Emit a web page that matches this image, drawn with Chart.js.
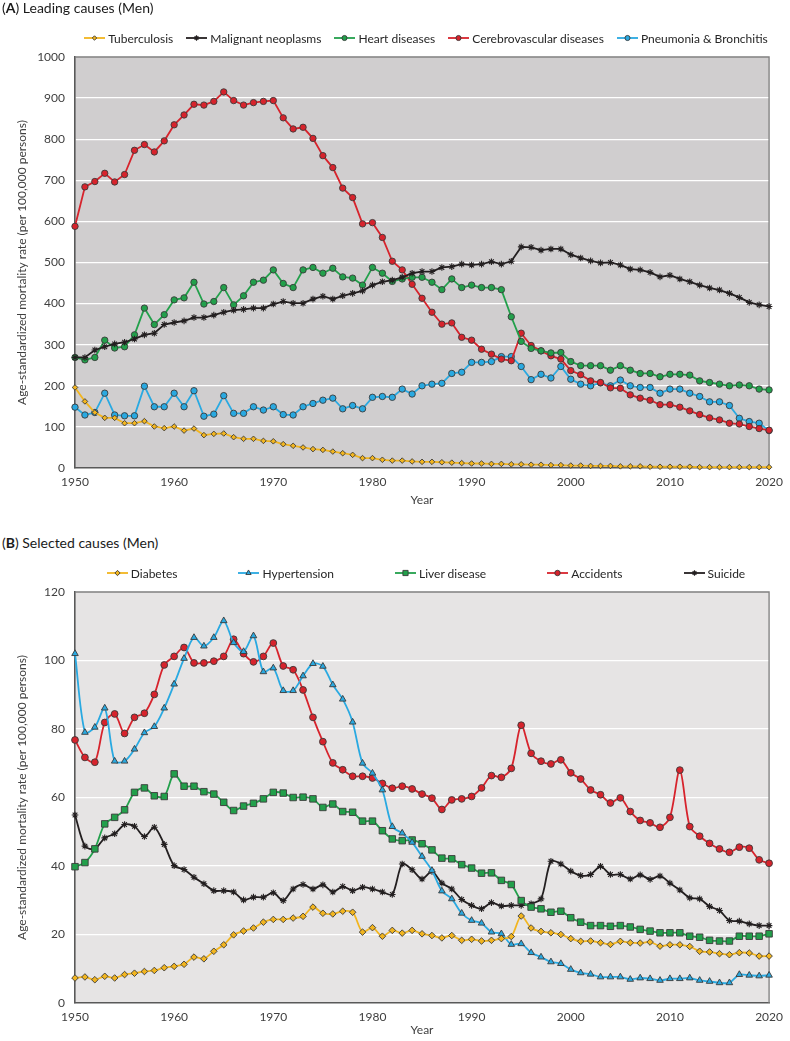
<!DOCTYPE html>
<html>
<head>
<meta charset="utf-8">
<title>Age-standardized mortality (Men)</title>
<script src="https://cdn.jsdelivr.net/npm/chart.js"></script>
<style>
  body { margin: 0; background: #fff; font-family: Lato, 'Open Sans', sans-serif; width: 790px; height: 1041px; position: relative; overflow: hidden; }
  .ttl { position: absolute; left: 2px; font-size: 14px; line-height: 16px; color: #1a1a1a; z-index: 2; }
  .box { position: absolute; left: 0; width: 790px; }
  .legend { position: absolute; left: 75px; width: 702px; height: 16px; display: flex; justify-content: center; align-items: center; font-size: 12px; color: #262626; z-index: 2; white-space: nowrap; }
  .legend span { display: inline-flex; align-items: center; }
  .legend canvas { margin-right: 3px; }
</style>
</head>
<body>
<div class="ttl" style="top:0px">(<b>A</b>) Leading causes (Men)</div>
<div class="legend" id="legendA" style="top:30px; gap:13px"></div>
<div class="box" style="top:0; height:520px"><canvas id="chartA"></canvas></div>

<div class="ttl" style="top:535px">(<b>B</b>) Selected causes (Men)</div>
<div class="legend" id="legendB" style="top:565px; gap:61px"></div>
<div class="box" style="top:560px; height:481px"><canvas id="chartB"></canvas></div>

<script>
const years = [1950,1951,1952,1953,1954,1955,1956,1957,1958,1959,1960,1961,1962,1963,1964,1965,1966,1967,1968,1969,
  1970,1971,1972,1973,1974,1975,1976,1977,1978,1979,1980,1981,1982,1983,1984,1985,1986,1987,1988,1989,
  1990,1991,1992,1993,1994,1995,1996,1997,1998,1999,2000,2001,2002,2003,2004,2005,2006,2007,2008,2009,
  2010,2011,2012,2013,2014,2015,2016,2017,2018,2019,2020];
const yearTicks = [1950,1960,1970,1980,1990,2000,2010,2020];
const leadingTicks = [0,100,200,300,400,500,600,700,800,900,1000];
const selectedTicks = [0,20,40,60,80,100,120];

// (A) leading causes
const tuberculosis = [196,162,135,122,122,109,109,114,101,97,101,91,96,80,83,84,75,71,71,66,
  65,58,54,50,46,44,40,36,32,24,24,20,18,18,16,15,15,14,13,12,
  11,11,10,10,9,9,8,8,7,7,6,6,5,5,5,4,4,4,3,3,
  3,3,3,2,2,2,2,2,2,2,2];
const malignant = [269,269,287,295,302,306,314,324,328,349,354,358,366,366,372,379,384,386,389,389,
  399,405,401,401,411,418,411,419,425,431,445,453,457,464,474,478,478,488,490,496,
  494,496,502,496,503,538,537,530,533,533,519,511,504,499,500,494,484,482,476,465,
  469,460,453,445,438,433,425,415,403,397,393];
const heart = [269,263,269,311,292,295,324,389,349,373,409,414,452,399,405,439,397,419,452,457,
  482,449,439,482,488,474,486,465,462,445,488,474,454,460,464,464,452,434,460,439,
  445,439,439,434,368,308,291,285,280,281,259,249,249,249,238,249,238,230,230,222,
  228,228,226,212,208,204,200,202,200,192,190];
const cerebro = [588,684,697,717,696,714,773,787,769,796,835,859,885,883,892,915,894,883,889,892,
  894,852,825,829,802,760,731,681,658,594,597,561,503,482,447,413,379,350,353,318,
  311,289,277,265,261,328,298,285,273,265,237,227,212,208,195,194,178,170,165,154,
  154,148,139,130,122,117,109,107,101,96,92];
const pneumonia = [148,129,135,182,129,127,127,199,149,149,182,149,188,126,131,176,133,133,149,141,
  149,130,129,149,157,165,170,144,152,144,172,174,172,192,180,200,204,206,230,233,
  257,257,259,271,271,247,215,228,219,247,216,204,200,207,200,214,200,196,196,182,
  192,192,182,174,161,161,152,121,113,109,91];

// (B) selected causes
const diabetes = [7.3,7.6,6.8,7.8,7.3,8.3,8.7,9.2,9.5,10.3,10.7,11.3,13.4,12.9,15.1,17.0,19.9,21.0,21.9,23.6,
  24.4,24.4,24.8,25.3,28.0,26.2,26.0,26.8,26.5,20.7,22.0,19.5,21.2,20.4,21.2,20.2,19.7,19.0,19.7,18.3,
  18.6,18.1,18.3,18.8,19.4,25.4,21.9,20.9,20.5,20.0,18.8,18.0,18.1,17.6,17.1,18.0,17.6,17.5,17.8,16.6,
  17.0,17.0,16.5,15.1,14.9,14.4,14.1,14.7,14.6,13.7,13.7];
const hypertension = [102.0,79.0,80.5,86.1,70.6,70.6,74.1,78.9,80.7,86.1,93.1,100.6,106.7,104.2,106.7,111.6,105.2,102.6,107.2,96.7,
  97.8,91.2,91.2,95.5,99.1,98.3,92.9,88.7,82.0,70.0,67.1,62.2,51.5,49.6,46.9,42.8,38.7,32.7,30.4,26.2,
  24.1,23.3,20.7,20.2,17.1,17.3,14.7,13.4,12.0,11.5,9.8,8.8,8.4,7.6,7.6,7.6,6.9,7.3,7.1,6.6,
  7.1,7.1,7.3,6.6,6.3,5.9,5.9,8.3,8.1,7.9,8.1];
const liver = [39.8,41.0,45.0,52.3,54.2,56.4,61.5,62.8,60.5,60.3,66.9,63.3,63.3,61.7,61.0,58.6,56.2,57.5,58.3,59.6,
  61.5,61.3,60.0,60.1,59.6,57.1,58.1,55.9,55.7,53.1,53.1,50.3,47.9,47.4,47.6,46.5,44.7,42.3,42.1,40.4,
  39.4,37.9,38.0,35.8,34.6,29.9,28.0,27.5,26.5,26.8,24.9,23.6,22.6,22.6,22.4,22.6,22.2,21.5,21.0,20.5,
  20.5,20.5,19.5,19.2,18.3,18.1,18.1,19.5,19.5,19.5,20.2];
const accidents = [76.8,71.7,70.3,81.9,84.4,78.7,83.4,84.6,90.1,98.7,101.2,103.8,99.3,99.3,99.8,101.2,106.2,102.0,99.6,101.2,
  105.1,98.4,97.3,91.4,83.4,76.3,70.1,68.1,66.2,66.2,65.7,64.1,62.7,63.3,62.5,61.0,59.8,56.5,59.3,59.6,
  60.3,62.8,66.4,65.9,68.5,81.1,72.9,70.6,69.8,71.0,67.2,65.4,62.2,60.8,58.4,59.9,55.9,53.3,52.6,51.3,
  54.2,68.0,51.5,48.7,46.6,45.0,44.0,45.5,45.2,41.8,40.8];
const suicide = [54.9,45.8,45.0,48.2,49.4,52.1,51.6,48.6,51.3,46.3,40.1,39.0,36.7,34.8,32.8,32.8,32.4,30.1,30.9,30.9,
  32.2,29.9,33.3,34.6,33.3,34.5,32.4,34.0,32.8,33.8,33.3,32.4,31.7,40.6,38.9,36.2,38.4,35.0,33.3,30.2,
  28.5,27.5,29.3,28.3,28.5,28.5,29.0,30.4,41.4,40.6,38.5,37.2,37.5,39.9,37.5,37.5,36.2,37.4,36.1,37.1,
  35.0,33.0,30.7,30.4,28.2,27.0,24.1,23.9,23.1,22.6,22.6];

const YELLOW = '#f2b51f', BLACK = '#231f20', GREEN = '#22a04b', RED = '#d7232c', BLUE = '#29a9e1';
const EDGE = '#3a3a3a';

Chart.defaults.font.family = "Lato, 'Open Sans', sans-serif";
Chart.defaults.font.size = 12;
Chart.defaults.color = '#404040';

function series(label, values, color, style, radius) {
  return {
    label: label,
    data: values.map((v, i) => ({ x: years[i], y: v })),
    borderColor: color,
    backgroundColor: color,
    borderWidth: 1.8,
    pointStyle: style,
    pointRadius: radius,
    pointHoverRadius: radius,
    pointBackgroundColor: color,
    pointBorderColor: style === 'star' ? color : EDGE,
    pointBorderWidth: style === 'star' ? 1.1 : 0.9,
    clip: false
  };
}

// grey plot area plus thin frame on top/right
const plotFrame = {
  id: 'plotFrame',
  beforeDraw(chart, args, opts) {
    const a = chart.chartArea, ctx = chart.ctx;
    ctx.save();
    ctx.fillStyle = opts.fill;
    ctx.fillRect(a.left, a.top, a.right - a.left, a.bottom - a.top);
    ctx.restore();
  },
  beforeDatasetsDraw(chart) {
    const a = chart.chartArea, ctx = chart.ctx;
    ctx.save();
    ctx.strokeStyle = '#7f7f7f';
    ctx.lineWidth = 1.3;
    ctx.beginPath();
    ctx.moveTo(a.left, a.top);
    ctx.lineTo(a.right, a.top);
    ctx.lineTo(a.right, a.bottom);
    ctx.stroke();
    ctx.restore();
  }
};

function panel(id, datasets, yTicks, o) {
  return new Chart(document.getElementById(id), {
    type: 'line',
    data: { datasets: datasets },
    plugins: [plotFrame],
    options: {
      responsive: true,
      maintainAspectRatio: false,
      animation: false,
      layout: { padding: { top: o.top, right: 13, bottom: 0, left: 0 } },
      elements: { line: { tension: o.tension } },
      plugins: {
        legend: { display: false },
        tooltip: { enabled: false },
        plotFrame: { fill: o.fill }
      },
      scales: {
        x: {
          type: 'linear',
          min: yearTicks[0],
          max: yearTicks[yearTicks.length - 1],
          afterBuildTicks: s => { s.ticks = yearTicks.map(v => ({ value: v })); },
          ticks: { padding: 7, callback: v => String(v) },
          grid: { display: false, drawTicks: false },
          border: { color: '#595959', width: 1.6 },
          title: { display: true, text: 'Year', color: '#404040', padding: { top: 0, bottom: o.titlePad } },
          afterFit: s => { s.height = o.xHeight; }
        },
        y: {
          min: yTicks[0],
          max: yTicks[yTicks.length - 1],
          afterBuildTicks: s => { s.ticks = yTicks.map(v => ({ value: v })); },
          ticks: { padding: 10, callback: v => String(v) },
          grid: { color: '#ffffff', lineWidth: 1.3, drawTicks: false },
          border: { color: '#595959', width: 1.6 },
          title: { display: true, text: 'Age-standardized mortality rate (per 100,000 persons)', color: '#404040', padding: { top: 15, bottom: 0 } },
          afterFit: s => { s.width = 75; }
        }
      }
    }
  });
}

function legendIcon(ds) {
  const c = document.createElement('canvas');
  c.width = 21; c.height = 10;
  const ctx = c.getContext('2d');
  ctx.strokeStyle = ds.borderColor;
  ctx.lineWidth = 1.8;
  ctx.beginPath(); ctx.moveTo(0, 5); ctx.lineTo(21, 5); ctx.stroke();
  ctx.fillStyle = ds.pointBackgroundColor;
  ctx.strokeStyle = ds.pointBorderColor;
  ctx.lineWidth = ds.pointBorderWidth;
  const opts = { pointStyle: ds.pointStyle, radius: ds.pointRadius * 0.8, borderWidth: ds.pointBorderWidth, rotation: 0 };
  if (Chart.helpers && Chart.helpers.drawPoint) {
    Chart.helpers.drawPoint(ctx, opts, 10.5, 5);
  } else {
    ctx.beginPath(); ctx.arc(10.5, 5, 2.5, 0, Math.PI * 2); ctx.fill(); ctx.stroke();
  }
  return c;
}

function buildLegend(id, datasets) {
  const el = document.getElementById(id);
  datasets.forEach(ds => {
    const item = document.createElement('span');
    item.appendChild(legendIcon(ds));
    item.appendChild(document.createTextNode(ds.label));
    el.appendChild(item);
  });
}

const dsA = [
  series('Tuberculosis', tuberculosis, YELLOW, 'rectRot', 2.8),
  series('Malignant neoplasms', malignant, BLACK, 'star', 3.3),
  series('Heart diseases', heart, GREEN, 'circle', 3.2),
  series('Cerebrovascular diseases', cerebro, RED, 'circle', 3.2),
  series('Pneumonia & Bronchitis', pneumonia, BLUE, 'circle', 3.2)
];
const dsB = [
  series('Diabetes', diabetes, YELLOW, 'rectRot', 3.3),
  series('Hypertension', hypertension, BLUE, 'triangle', 3.8),
  series('Liver disease', liver, GREEN, 'rect', 4.6),
  series('Accidents', accidents, RED, 'circle', 3.4),
  series('Suicide', suicide, BLACK, 'star', 3.3)
];

buildLegend('legendA', dsA);
buildLegend('legendB', dsB);

panel('chartA', dsA, leadingTicks, { top: 57, xHeight: 52, titlePad: 13, tension: 0, fill: '#d0cecf' });
panel('chartB', dsB, selectedTicks, { top: 32, xHeight: 38, titlePad: 4, tension: 0.3, fill: '#e6e4e4' });
</script>
</body>
</html>
